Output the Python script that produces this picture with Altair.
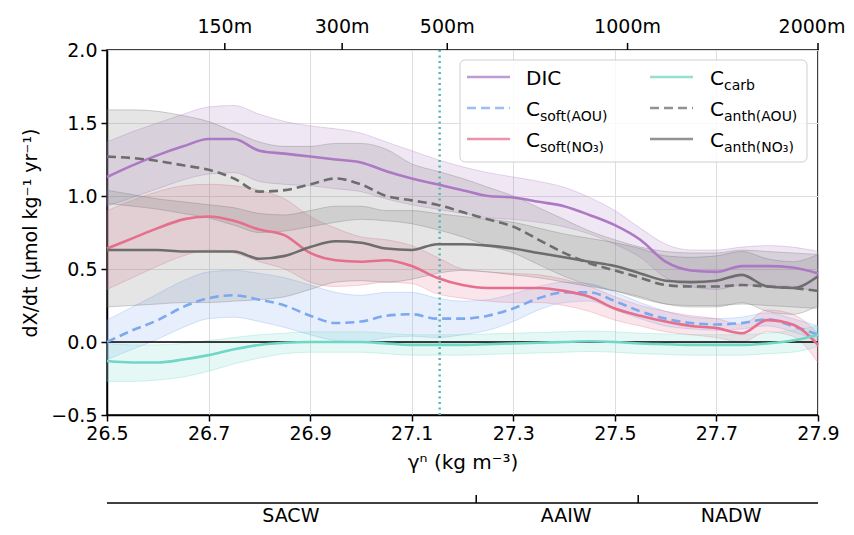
import altair as alt
import pandas as pd

# ---------------- data ----------------
gamma = [26.50, 26.55, 26.60, 26.65, 26.70, 26.75, 26.80, 26.85, 26.90, 26.95,
         27.00, 27.05, 27.10, 27.15, 27.20, 27.25, 27.30, 27.35, 27.40, 27.45,
         27.50, 27.55, 27.60, 27.65, 27.70, 27.75, 27.80, 27.85, 27.90]

dic = [1.13, 1.21, 1.28, 1.34, 1.39, 1.39, 1.31, 1.29, 1.27, 1.25,
       1.23, 1.17, 1.12, 1.08, 1.04, 1.00, 0.99, 0.96, 0.93, 0.87,
       0.80, 0.70, 0.55, 0.49, 0.48, 0.52, 0.52, 0.51, 0.47]
dic_lo = [0.93, 0.99, 1.05, 1.11, 1.15, 1.16, 1.10, 1.08, 1.07, 1.05,
          1.03, 0.98, 0.94, 0.91, 0.88, 0.85, 0.84, 0.82, 0.79, 0.74,
          0.67, 0.58, 0.44, 0.38, 0.36, 0.39, 0.39, 0.38, 0.34]
dic_hi = [1.37, 1.44, 1.50, 1.56, 1.61, 1.62, 1.56, 1.51, 1.48, 1.46,
          1.43, 1.37, 1.31, 1.25, 1.20, 1.16, 1.13, 1.10, 1.06, 0.99,
          0.90, 0.78, 0.67, 0.63, 0.63, 0.65, 0.66, 0.65, 0.62]

csoft_aou = [0.00, 0.08, 0.15, 0.24, 0.30, 0.32, 0.29, 0.25, 0.18, 0.13,
             0.14, 0.18, 0.19, 0.16, 0.16, 0.18, 0.23, 0.30, 0.34, 0.34,
             0.28, 0.21, 0.16, 0.13, 0.12, 0.13, 0.155, 0.11, 0.05]
csoft_aou_lo = [-0.12, -0.05, 0.02, 0.10, 0.16, 0.17, 0.14, 0.10, 0.05, 0.01,
                0.00, 0.03, 0.04, 0.03, 0.05, 0.08, 0.14, 0.22, 0.27, 0.28,
                0.22, 0.16, 0.11, 0.09, 0.08, 0.09, 0.11, 0.07, 0.01]
csoft_aou_hi = [0.15, 0.24, 0.33, 0.42, 0.48, 0.49, 0.47, 0.44, 0.39, 0.34,
                0.32, 0.34, 0.34, 0.30, 0.28, 0.29, 0.33, 0.38, 0.41, 0.40,
                0.34, 0.27, 0.21, 0.17, 0.16, 0.17, 0.20, 0.16, 0.11]

csoft_no3 = [0.64, 0.71, 0.78, 0.84, 0.86, 0.83, 0.77, 0.73, 0.61, 0.56,
             0.55, 0.56, 0.52, 0.44, 0.39, 0.37, 0.37, 0.37, 0.35, 0.31,
             0.23, 0.18, 0.14, 0.11, 0.095, 0.06, 0.15, 0.12, -0.02]
csoft_no3_lo = [0.36, 0.44, 0.52, 0.59, 0.63, 0.61, 0.55, 0.50, 0.41, 0.38,
                0.39, 0.41, 0.40, 0.33, 0.30, 0.28, 0.27, 0.27, 0.25, 0.21,
                0.15, 0.11, 0.07, 0.05, 0.03, 0.00, 0.07, 0.04, -0.14]
csoft_no3_hi = [0.90, 0.97, 1.03, 1.07, 1.08, 1.07, 1.04, 0.98, 0.86, 0.78,
                0.72, 0.70, 0.66, 0.58, 0.50, 0.48, 0.47, 0.46, 0.43, 0.38,
                0.31, 0.25, 0.21, 0.18, 0.16, 0.12, 0.22, 0.19, 0.06]

ccarb = [-0.13, -0.14, -0.14, -0.12, -0.09, -0.05, -0.02, -0.005, 0.00, 0.00,
         0.00, -0.01, -0.02, -0.02, -0.02, -0.015, -0.01, -0.005, 0.00, 0.005,
         0.00, -0.01, -0.015, -0.02, -0.02, -0.02, -0.01, 0.01, 0.05]
ccarb_lo = [-0.27, -0.27, -0.26, -0.24, -0.20, -0.15, -0.11, -0.08, -0.07, -0.07,
            -0.07, -0.08, -0.09, -0.09, -0.09, -0.085, -0.08, -0.075, -0.07, -0.065,
            -0.07, -0.08, -0.085, -0.09, -0.09, -0.09, -0.08, -0.07, -0.03]
ccarb_hi = [-0.01, -0.02, -0.02, -0.01, 0.01, 0.03, 0.05, 0.06, 0.07, 0.07,
            0.07, 0.06, 0.05, 0.05, 0.05, 0.055, 0.06, 0.065, 0.07, 0.075,
            0.07, 0.06, 0.055, 0.05, 0.05, 0.05, 0.06, 0.08, 0.11]

canth_aou = [1.27, 1.26, 1.24, 1.21, 1.18, 1.12, 1.03, 1.04, 1.08, 1.12,
             1.08, 1.00, 0.97, 0.94, 0.89, 0.84, 0.79, 0.70, 0.61, 0.54,
             0.49, 0.44, 0.39, 0.38, 0.38, 0.39, 0.38, 0.37, 0.35]
canth_aou_lo = [0.95, 0.93, 0.91, 0.88, 0.85, 0.80, 0.75, 0.76, 0.79, 0.82,
                0.84, 0.83, 0.81, 0.77, 0.72, 0.66, 0.61, 0.53, 0.45, 0.39,
                0.35, 0.30, 0.26, 0.25, 0.25, 0.26, 0.25, 0.24, 0.23]
canth_aou_hi = [1.59, 1.59, 1.58, 1.55, 1.51, 1.44, 1.37, 1.34, 1.34, 1.36,
                1.36, 1.32, 1.22, 1.17, 1.12, 1.06, 1.00, 0.92, 0.84, 0.76,
                0.70, 0.65, 0.62, 0.61, 0.61, 0.63, 0.62, 0.61, 0.60]

canth_no3 = [0.63, 0.63, 0.63, 0.62, 0.62, 0.62, 0.57, 0.59, 0.65, 0.69,
             0.68, 0.64, 0.63, 0.67, 0.67, 0.66, 0.64, 0.61, 0.58, 0.55,
             0.52, 0.47, 0.42, 0.41, 0.42, 0.46, 0.38, 0.37, 0.45]
canth_no3_lo = [0.24, 0.25, 0.26, 0.27, 0.27, 0.28, 0.29, 0.31, 0.36, 0.41,
                0.42, 0.41, 0.43, 0.47, 0.49, 0.48, 0.46, 0.44, 0.41, 0.38,
                0.35, 0.31, 0.26, 0.24, 0.24, 0.27, 0.21, 0.19, 0.25]
canth_no3_hi = [1.04, 1.01, 0.98, 0.96, 0.94, 0.92, 0.88, 0.87, 0.90, 0.93,
                0.93, 0.90, 0.90, 0.88, 0.86, 0.84, 0.82, 0.78, 0.74, 0.71,
                0.68, 0.64, 0.59, 0.58, 0.59, 0.62, 0.57, 0.55, 0.60]

series_names = ["DIC", "Csoft(AOU)", "Csoft(NO3)", "Ccarb", "Canth(AOU)", "Canth(NO3)"]
legend_main = ["DIC", "C", "C", "C", "C", "C"]
legend_sub = ["", "soft(AOU)", "soft(NO₃)", "carb", "anth(AOU)", "anth(NO₃)"]
series_colors = ["#ad78c4", "#7ca8f0", "#e56f8c", "#70d6c6", "#6d6d6d", "#6d6d6d"]
series_dash = [False, True, False, False, True, False]

x_ticks = [26.5, 26.7, 26.9, 27.1, 27.3, 27.5, 27.7, 27.9]
y_ticks = [-0.5, 0.0, 0.5, 1.0, 1.5, 2.0]

depth_labels = ["150m", "300m", "500m", "1000m", "2000m"]
depth_gamma = [26.732, 26.963, 27.170, 27.525, 27.9]

mld_gamma = [27.155]  # dotted vertical reference line

water_names = ["SACW", "AAIW", "NADW"]
water_label_gamma = [26.862, 27.404, 27.729]
water_bounds = [27.227, 27.546]
water_span = [26.5, 27.9]

# ---------------- chart ----------------
W, H = 711, 365
FONT = "DejaVu Sans"
FS = 19

xscale = alt.Scale(domain=[26.5, 27.9], nice=False, zero=False)
yscale = alt.Scale(domain=[-0.5, 2.0], nice=False, zero=False)

xaxis = alt.Axis(values=x_ticks, format=".1f", title="γⁿ (kg m⁻³)",
                 labelFlush=False, labelOverlap=False, grid=True,
                 labelPadding=3, titlePadding=9, titleFontSize=20)
yaxis = alt.Axis(values=y_ticks, format=".1f", title="dX/dt (μmol kg⁻¹ yr⁻¹)",
                 labelFlush=False, labelOverlap=False, grid=True,
                 labelPadding=4, titlePadding=10)

X = alt.X("g:Q", scale=xscale, axis=xaxis)


def Y(field):
    return alt.Y(field, scale=yscale, axis=yaxis)


data_map = {
    "DIC": (dic, dic_lo, dic_hi),
    "Csoft(AOU)": (csoft_aou, csoft_aou_lo, csoft_aou_hi),
    "Csoft(NO3)": (csoft_no3, csoft_no3_lo, csoft_no3_hi),
    "Ccarb": (ccarb, ccarb_lo, ccarb_hi),
    "Canth(AOU)": (canth_aou, canth_aou_lo, canth_aou_hi),
    "Canth(NO3)": (canth_no3, canth_no3_lo, canth_no3_hi),
}

bands = []
lines = []
for name, col, dash in zip(series_names, series_colors, series_dash):
    m, lo, hi = data_map[name]
    df = pd.DataFrame({"g": gamma, "v": m, "lo": lo, "hi": hi})
    bands.append(
        alt.Chart(df).mark_area(interpolate="monotone", fill=col, fillOpacity=0.18,
                                stroke=col, strokeOpacity=0.3, strokeWidth=1)
        .encode(x=X, y=Y("lo:Q"), y2="hi:Q")
    )
    mk = dict(interpolate="monotone", color=col, strokeWidth=2.6)
    if dash:
        mk["strokeDash"] = [9, 5]
    lines.append(
        alt.Chart(df).mark_line(**mk).encode(x=X, y=Y("v:Q"))
    )

zero_line = alt.Chart(pd.DataFrame({"v": [0.0]})).mark_rule(
    color="black", strokeWidth=1.5).encode(y=Y("v:Q"))

mld_line = alt.Chart(pd.DataFrame({"g": mld_gamma})).mark_rule(
    color="#5fb5ad", strokeWidth=2.5, strokeDash=[2, 3.5]).encode(x=X)

# depth (top) axis
depth_df = pd.DataFrame({"g": depth_gamma, "label": depth_labels})
depth_ticks = alt.Chart(depth_df).mark_rule(color="black", strokeWidth=1.5).encode(
    x=X, y=alt.value(-7), y2=alt.value(0))
depth_text = alt.Chart(depth_df.iloc[:-1]).mark_text(
    font=FONT, fontSize=FS, color="black", baseline="middle", align="center").encode(
    x=X, y=alt.value(-23), text="label:N")
depth_text_last = alt.Chart(depth_df.iloc[-1:]).mark_text(
    font=FONT, fontSize=FS, color="black", baseline="middle", align="center", dx=-6).encode(
    x=X, y=alt.value(-23), text="label:N")

# water mass axis (below)
span_df = pd.DataFrame({"g": [water_span[0]], "g2": [water_span[1]]})
wm_line = alt.Chart(span_df).mark_rule(color="black", strokeWidth=1.5).encode(
    x=X, x2="g2:Q", y=alt.value(453))
wm_ticks = alt.Chart(pd.DataFrame({"g": water_bounds})).mark_rule(
    color="black", strokeWidth=1.5).encode(x=X, y=alt.value(445), y2=alt.value(453))
wm_text = alt.Chart(pd.DataFrame({"g": water_label_gamma, "name": water_names})).mark_text(
    font=FONT, fontSize=FS, color="black", baseline="middle", align="center").encode(
    x=X, y=alt.value(466), text="name:N")

# legend (drawn manually to allow subscripts)
one = pd.DataFrame({"a": [0]})
legend_layers = [
    alt.Chart(one).mark_rect(fill="white", fillOpacity=0.8, stroke="#cfcfcf",
                             strokeWidth=1, cornerRadius=5).encode(
        x=alt.value(353), x2=alt.value(700), y=alt.value(10), y2=alt.value(112))
]
col_line_x = [360, 543]
col_text_x = [419, 603]
row_y = [27, 58, 89]
for i, (col, dash) in enumerate(zip(series_colors, series_dash)):
    c, r = i // 3, i % 3
    mk = dict(color=col, strokeWidth=2.6, opacity=0.75)
    if dash:
        mk["strokeDash"] = [9, 5]
    legend_layers.append(alt.Chart(one).mark_rule(**mk).encode(
        x=alt.value(col_line_x[c]), x2=alt.value(col_line_x[c] + 43), y=alt.value(row_y[r])))
    legend_layers.append(alt.Chart(one).mark_text(
        font=FONT, fontSize=20, color="black", align="left", baseline="alphabetic",
        text=legend_main[i]).encode(x=alt.value(col_text_x[c]), y=alt.value(row_y[r] + 8)))
    if legend_sub[i]:
        legend_layers.append(alt.Chart(one).mark_text(
            font=FONT, fontSize=14, color="black", align="left", baseline="alphabetic",
            text=legend_sub[i]).encode(x=alt.value(col_text_x[c] + 14), y=alt.value(row_y[r] + 12.5)))

chart = alt.layer(
    *bands, zero_line, mld_line, *lines,
    depth_ticks, depth_text, depth_text_last, wm_line, wm_ticks, wm_text, *legend_layers
).properties(
    width=W, height=H,
    autosize=alt.AutoSizeParams(type="none"),
    padding={"left": 99, "top": 42, "right": 28, "bottom": 111},
).configure_view(
    stroke="black", strokeWidth=1.5
).configure_axis(
    labelFont=FONT, titleFont=FONT, labelFontSize=FS, titleFontSize=FS,
    labelColor="black", titleColor="black", tickColor="black", domainColor="black",
    domainWidth=1.5, tickWidth=1.5, tickSize=6, gridColor="#dedede", gridWidth=1,
    titleFontWeight="normal"
)

chart.save("out.html", embed_options={"renderer": "svg", "actions": False})
